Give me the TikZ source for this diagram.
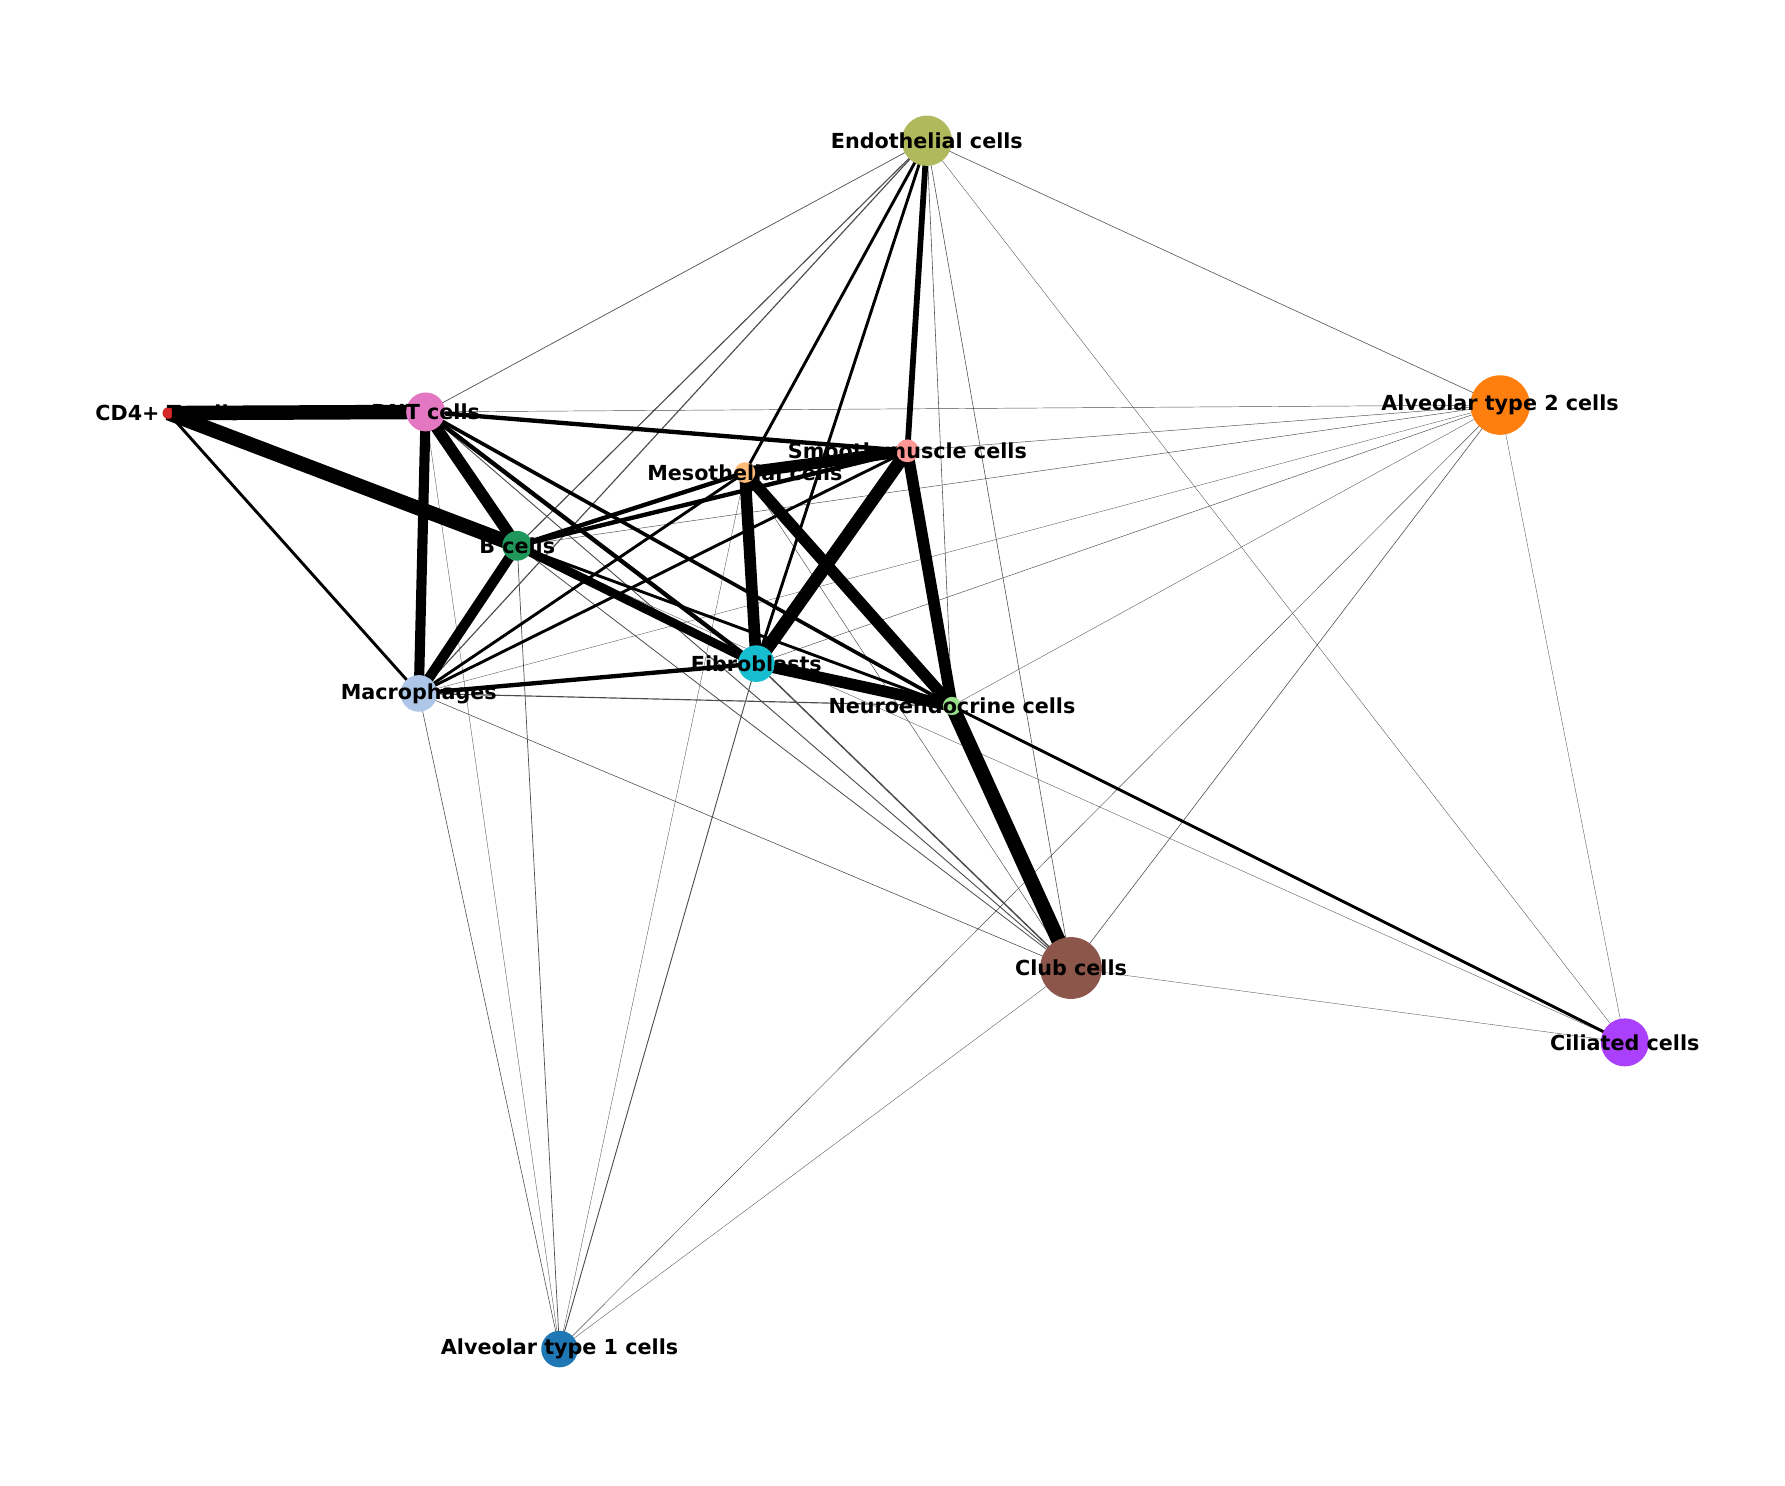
\documentclass[tikz,border=0pt]{standalone}
\usepackage{fontspec}
\setmainfont{DejaVu Sans}
\begin{document}
\begin{tikzpicture}[x=0.02cm,y=-0.02cm,
  e/.style={line width=#1*0.72pt, black},
  g/.style={line width=#1*0.57pt, black!70},
  lab/.style={font=\fontsize{10.3}{11}\selectfont\bfseries, inner sep=0pt}]
\useasboundingbox (0,0) rectangle (1560,1298);
\coordinate (endo) at (810,123);
\coordinate (alv2) at (1311,354);
\coordinate (cd4) at (147,361);
\coordinate (dnt) at (372,360);
\coordinate (smc) at (793,394);
\coordinate (meso) at (651,413);
\coordinate (b) at (452,477);
\coordinate (fib) at (661,580);
\coordinate (mac) at (366,606);
\coordinate (neu) at (832,617);
\coordinate (club) at (936,846);
\coordinate (cil) at (1420,911);
\coordinate (alv1) at (489,1179);
% thin edges
\foreach \a/\b/\w in {dnt/alv2/0.4,dnt/endo/0.6,dnt/alv1/0.3,smc/alv2/0.4,meso/alv1/0.3,b/club/0.7,b/endo/1,b/alv1/0.6,b/alv2/0.4,fib/club/1.3,fib/alv1/0.8,fib/alv2/0.4,mac/neu/1,mac/endo/1,mac/club/0.5,mac/alv1/0.5,mac/alv2/0.3,neu/endo/0.5,club/endo/0.5,club/alv2/0.5,club/cil/0.3,club/alv1/0.3,dnt/club/0.8,endo/alv2/0.5,endo/cil/0.3,alv2/cil/0.3,alv2/alv1/0.4,alv2/neu/0.3,meso/club/0.4,b/cil/0.3}
  \draw[g=\w] (\a) -- (\b);
% heavier edges
\foreach \a/\b/\w in {cd4/dnt/10,cd4/b/10,cd4/mac/2,dnt/b/8,dnt/mac/7,dnt/smc/3,dnt/neu/2.5,dnt/fib/3,smc/meso/8,smc/fib/9,smc/neu/8,smc/endo/4,smc/b/3,smc/mac/2,meso/fib/8,meso/neu/8,meso/b/3,meso/mac/2,meso/endo/2,b/mac/7,b/fib/6,b/neu/2,fib/mac/3,fib/neu/8,fib/endo/2,neu/club/10,neu/cil/2}
  \draw[e=\w] (\a) -- (\b);
% nodes
\foreach \n/\r/\c in {endo/22/{rgb,255:red,176;green,186;blue,92},alv2/26/{rgb,255:red,255;green,127;blue,14},cd4/5/{rgb,255:red,214;green,39;blue,40},dnt/17/{rgb,255:red,227;green,119;blue,194},smc/10/{rgb,255:red,255;green,152;blue,150},meso/9/{rgb,255:red,255;green,187;blue,120},b/13/{rgb,255:red,31;green,150;blue,90},fib/16/{rgb,255:red,23;green,190;blue,207},mac/16/{rgb,255:red,174;green,199;blue,232},neu/8/{rgb,255:red,152;green,223;blue,138},club/27/{rgb,255:red,140;green,86;blue,75},cil/21/{rgb,255:red,170;green,64;blue,252},alv1/16/{rgb,255:red,31;green,119;blue,180}}
  \fill[color=\c] (\n) circle (\r);
\node[lab] (lendo) at (endo) {Endothelial cells};
\node[lab] (lalv2) at (alv2) {Alveolar type 2 cells};
\node[lab] (lcd4) at (cd4) {CD4+ T cells};
\node[lab] (ldnt) at (dnt) {DNT cells};
\node[lab] (lsmc) at (smc) {Smooth muscle cells};
\node[lab] (lmeso) at (meso) {Mesothelial cells};
\node[lab] (lb) at (b) {B cells};
\node[lab] (lfib) at (fib) {Fibroblasts};
\node[lab] (lmac) at (mac) {Macrophages};
\node[lab] (lneu) at (neu) {Neuroendocrine cells};
\node[lab] (lclub) at (club) {Club cells};
\node[lab] (lcil) at (cil) {Ciliated cells};
\node[lab] (lalv1) at (alv1) {Alveolar type 1 cells};
\end{tikzpicture}
\end{document}
